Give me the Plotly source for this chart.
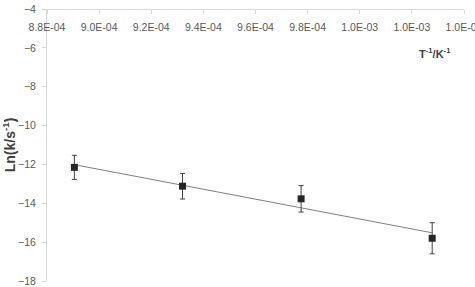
import numpy as np
import plotly.graph_objects as go

inv_T = [0.0008905, 0.000932, 0.0009775, 0.0010278]
ln_k = [-12.15, -13.12, -13.77, -15.80]
err = [0.62, 0.66, 0.68, 0.80]
tick_vals = [0.00088, 0.00090, 0.00092, 0.00094, 0.00096, 0.00098, 0.00100, 0.00102, 0.00104]
tick_text = ["8.8E-04", "9.0E-04", "9.2E-04", "9.4E-04", "9.6E-04", "9.8E-04", "1.0E-03", "1.0E-03", "1.0E-03"]
y_ticks = [-4, -6, -8, -10, -12, -14, -16, -18]

slope, icpt = np.polyfit(inv_T, ln_k, 1)
fit_x = [inv_T[0], inv_T[-1]]
fit_y = [slope * v + icpt for v in fit_x]

fig = go.Figure()
fig.add_trace(go.Scatter(x=fit_x, y=fit_y, mode="lines",
                         line=dict(color="#7f7f7f", width=1), showlegend=False, hoverinfo="skip"))
fig.add_trace(go.Scatter(x=inv_T, y=ln_k, mode="markers",
                         marker=dict(symbol="square", size=7, color="#262626"),
                         error_y=dict(type="data", array=err, visible=True, color="#404040",
                                      thickness=1, width=2.5),
                         showlegend=False))

fig.add_annotation(x=0.0010358, y=-6.25, xref="x", yref="y", xanchor="right", yanchor="middle",
                   text="<b>T<sup>-1</sup>/K<sup>-1</sup></b>", showarrow=False,
                   font=dict(family="Liberation Sans", size=11, color="#404040"))

fig.update_layout(
    width=475, height=287,
    margin=dict(l=46.5, r=11, t=8.5, b=6),
    paper_bgcolor="white", plot_bgcolor="white",
    font=dict(family="Liberation Sans", size=10.5, color="#595959"),
    xaxis=dict(range=[0.00088, 0.00104], side="bottom", anchor="free", position=1,
               tickvals=tick_vals, ticktext=tick_text, ticklabelstandoff=4,
               ticklabeloverflow="allow", automargin=False,
               showgrid=False, zeroline=False, showline=True, linecolor="#d9d9d9", linewidth=1,
               ticks="outside", ticklen=4, tickcolor="#d9d9d9"),
    yaxis=dict(range=[-18, -4], domain=[0, 1], tickvals=y_ticks, showgrid=False, zeroline=False,
               showline=True, linecolor="#d9d9d9", linewidth=1, automargin=False,
               ticks="outside", ticklen=4, tickcolor="#d9d9d9", ticklabelstandoff=4,
               ticklabeloverflow="allow",
               title=dict(text="<b>Ln(k/s<sup>-1</sup>)</b>", standoff=5,
                          font=dict(family="Liberation Sans", size=14, color="#404040"))),
)

fig.write_html("out.html")
